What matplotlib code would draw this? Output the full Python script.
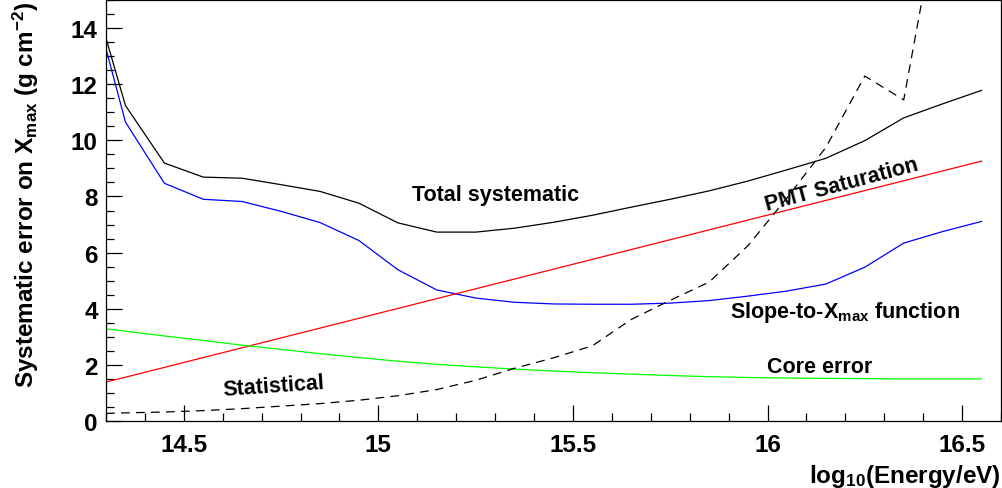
import matplotlib
matplotlib.use("Agg")
import matplotlib.pyplot as plt
from matplotlib.ticker import MultipleLocator

plt.rcParams["font.family"] = ["Liberation Sans", "DejaVu Sans"]
plt.rcParams["font.weight"] = "bold"
plt.rcParams["axes.labelweight"] = "bold"
plt.rcParams["mathtext.fontset"] = "custom"
plt.rcParams["mathtext.rm"] = "Liberation Sans:bold"
plt.rcParams["mathtext.it"] = "Liberation Sans:bold"
plt.rcParams["mathtext.bf"] = "Liberation Sans:bold"

# log10(E/eV) bin centres
energy = [14.3, 14.35, 14.45, 14.55, 14.65, 14.75, 14.85, 14.95, 15.05, 15.15,
          15.25, 15.35, 15.45, 15.55, 15.65, 15.75, 15.85, 15.95, 16.05, 16.15,
          16.25, 16.35, 16.45, 16.55]

total = [13.64, 11.24, 9.19, 8.69, 8.65, 8.42, 8.18, 7.76, 7.06, 6.73,
         6.73, 6.87, 7.08, 7.33, 7.62, 7.90, 8.20, 8.55, 8.95, 9.36,
         9.99, 10.80, 11.30, 11.78]

slope_xmax = [13.26, 10.65, 8.47, 7.90, 7.82, 7.47, 7.07, 6.43, 5.39, 4.67,
              4.38, 4.23, 4.17, 4.16, 4.16, 4.20, 4.29, 4.45, 4.63, 4.88,
              5.48, 6.34, 6.75, 7.11]

pmt_sat = [1.39, 1.56, 1.91, 2.26, 2.61, 2.96, 3.31, 3.66, 4.01, 4.36,
           4.71, 5.06, 5.41, 5.76, 6.11, 6.46, 6.81, 7.16, 7.51, 7.86,
           8.21, 8.56, 8.91, 9.26]

core = [3.28, 3.20, 3.03, 2.87, 2.70, 2.55, 2.40, 2.26, 2.13, 2.02,
        1.93, 1.85, 1.78, 1.72, 1.67, 1.62, 1.58, 1.55, 1.53, 1.52,
        1.51, 1.50, 1.50, 1.50]

statistical = [0.27, 0.29, 0.32, 0.37, 0.44, 0.53, 0.62, 0.74, 0.90, 1.12,
               1.45, 1.88, 2.25, 2.68, 3.62, 4.30, 4.95, 6.25, 7.95, 9.75,
               12.29, 11.44, 19.0, 24.0]

fig = plt.figure(figsize=(10.03, 4.89), dpi=100)
ax = fig.add_axes([106 / 1003, 1 - 422 / 489, 895 / 1003, 421 / 489])

lw = 0.9
ax.plot(energy, total, color="black", lw=lw)
ax.plot(energy, slope_xmax, color="#0000ff", lw=lw)
ax.plot(energy, pmt_sat, color="#ff0000", lw=lw)
ax.plot(energy, core, color="#00ff00", lw=lw)
ax.plot(energy, statistical, color="black", lw=lw, dashes=(7, 5))

ax.set_xlim(14.3, 16.6)
ax.set_ylim(0, 15)

ax.xaxis.set_major_locator(MultipleLocator(0.5))
ax.xaxis.set_minor_locator(MultipleLocator(0.1))
ax.yaxis.set_major_locator(MultipleLocator(2))
ax.yaxis.set_minor_locator(MultipleLocator(0.5))
ax.tick_params(which="both", direction="in", top=False, right=False,
               labelsize=17.5, width=0.9)
ax.tick_params(which="major", length=11.5)
ax.tick_params(which="minor", length=6)
ax.tick_params(axis="x", pad=9)
ax.tick_params(axis="y", pad=6)
ax.xaxis.set_major_formatter(plt.FuncFormatter(lambda v, p: f"{v:g}"))
for s in ax.spines.values():
    s.set_linewidth(0.9)

ax.set_xlabel(r"log$_{10}$(Energy/eV)", fontsize=17.5, ha="right", va="top")
ax.xaxis.set_label_coords(1.0, -0.097)
ax.set_ylabel(r"Systematic error on X$_{\max}$ (g cm$^{-2}$)", fontsize=17.5,
              ha="right")
ax.yaxis.set_label_coords(-0.0726, 0.997)

fs = 15.5
ax.text(15.3, 8.07, "Total systematic", fontsize=fs, ha="center", va="center")
ax.text(16.19, 8.45, "PMT Saturation", fontsize=fs, ha="center", va="center",
        rotation=15, rotation_mode="anchor")
ax.text(16.2, 3.9, r"Slope-to-X$_{\max}$ function", fontsize=fs,
        ha="center", va="center")
ax.text(16.135, 1.95, "Core error", fontsize=fs, ha="center", va="center")
ax.text(14.73, 1.25, "Statistical", fontsize=fs, ha="center", va="center",
        rotation=4, rotation_mode="anchor")

fig.savefig("out.png", dpi=100)
